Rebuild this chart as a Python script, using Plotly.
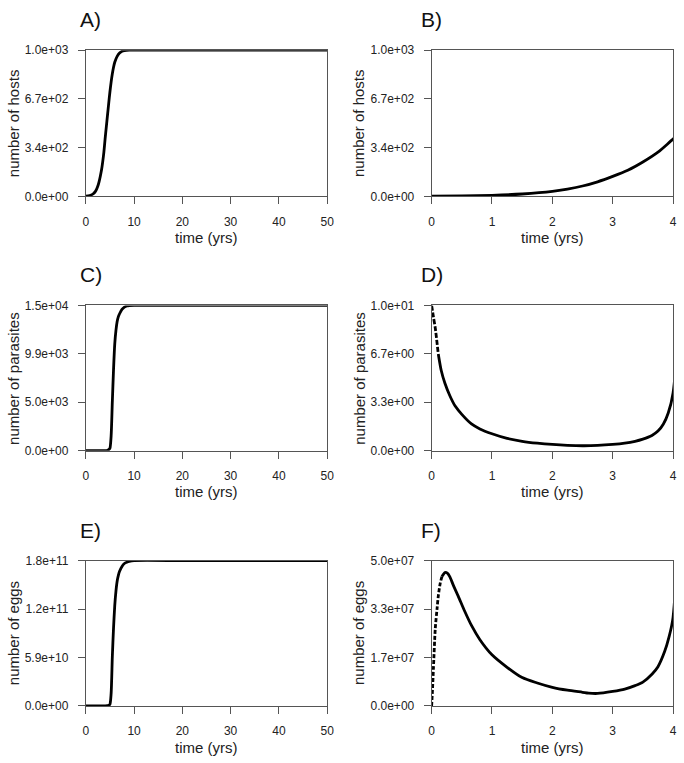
import plotly.graph_objects as go

# ---------------- data ----------------
# hosts (panels A, B)
host_t = [0, 0.5, 1, 1.5, 2, 2.25, 2.5, 2.75, 3, 3.25, 3.5, 3.75, 4, 4.25, 4.5, 4.75, 5, 5.25, 5.5, 5.75, 6,
          6.5, 7, 7.5, 8, 9, 10, 20, 30, 40, 50]
host_n = [2, 4, 8, 17, 35, 51, 72, 101, 138, 180, 237, 305, 395, 478, 560, 642, 720, 788, 845, 890, 925,
          965, 988, 1000, 1005, 1008, 1008, 1008, 1008, 1008, 1008]

# parasites (panels C, D)
par_t = [0, 0.03, 0.06, 0.11, 0.16, 0.22, 0.3, 0.39, 0.5, 0.66, 0.8, 1, 1.25, 1.5, 1.75, 2, 2.25, 2.5,
         2.75, 3, 3.2, 3.37, 3.5, 3.65, 3.75, 3.84, 3.92, 4, 4.5, 4.75, 5, 5.25, 5.5, 5.75, 6, 6.25, 6.5, 6.75,
         7, 7.5, 8, 8.5, 9, 10, 20, 30, 40, 50]
par_n = [10, 9.2, 8.45, 6.66, 5.5, 4.64, 3.8, 3.07, 2.5, 1.84, 1.5, 1.17, 0.85, 0.65, 0.52, 0.43, 0.37, 0.34,
         0.36, 0.43, 0.52, 0.65, 0.8, 1.05, 1.35, 1.84, 2.6, 3.97, 40, 110, 250, 1500, 5000, 8300, 10900, 12300,
         13200, 13700, 14000, 14450, 14680, 14790, 14830, 14850, 14850, 14850, 14850, 14850]

# eggs (panels E, F)
egg_t = [0, 0.015, 0.03, 0.06, 0.09, 0.11, 0.14, 0.17, 0.22, 0.26, 0.3, 0.36, 0.44, 0.55, 0.66, 0.8, 1, 1.25,
         1.5, 1.75, 2, 2.25, 2.5, 2.6, 2.75, 3, 3.2, 3.37, 3.5, 3.65, 3.75, 3.86, 3.93, 4, 4.5, 4.75, 5, 5.25,
         5.5, 5.75, 6, 6.25, 6.5, 6.75, 7, 7.5, 8, 8.5, 9, 10, 20, 30, 40, 50]
egg_n = [0, 6.0e6, 13.1e6, 26.6e6, 33.5e6, 37.8e6, 42.0e6, 44.5e6, 45.9e6, 45.7e6, 44.5e6, 41.5e6, 37.8e6, 32.5e6,
         27.7e6, 22.8e6, 17.6e6, 13.3e6, 9.75e6, 7.9e6, 6.4e6, 5.4e6, 4.7e6, 4.4e6, 4.3e6, 5.0e6, 5.8e6, 7.0e6,
         8.2e6, 10.9e6, 13.5e6, 18.7e6, 23.5e6, 30.5e6, 3.0e8, 8.0e8, 2.0e9, 1.5e10, 6.0e10, 9.5e10, 1.22e11,
         1.40e11, 1.52e11, 1.59e11, 1.64e11, 1.70e11, 1.735e11, 1.75e11, 1.76e11, 1.77e11, 1.77e11, 1.77e11,
         1.77e11, 1.77e11]

# axis maxima and tick labels
host_max = 1008
par_max_long, par_max_short = 14850, 10
egg_max_long, egg_max_short = 1.77e11, 5.0e7

host_ticks = ["0.0e+00", "3.4e+02", "6.7e+02", "1.0e+03"]
par_long_ticks = ["0.0e+00", "5.0e+03", "9.9e+03", "1.5e+04"]
par_short_ticks = ["0.0e+00", "3.3e+00", "6.7e+00", "1.0e+01"]
egg_long_ticks = ["0.0e+00", "5.9e+10", "1.2e+11", "1.8e+11"]
egg_short_ticks = ["0.0e+00", "1.7e+07", "3.3e+07", "5.0e+07"]

long_xticks = [0, 10, 20, 30, 40, 50]
short_xticks = [0, 1, 2, 3, 4]

panel_labels = ["A)", "B)", "C)", "D)", "E)", "F)"]
y_titles = ["number of hosts", "number of hosts", "number of parasites", "number of parasites",
            "number of eggs", "number of eggs"]
x_title = "time (yrs)"

# ---------------- layout ----------------
W, H = 684, 763
FONT = "Liberation Sans, Arial, Helvetica, sans-serif"
col_px = [(84, 329), (435, 680)]
row_px = [(44, 193), (304, 452), (564, 712)]
label_left_px = [76, 422]

fig = go.Figure()

panels = [
    # (row, col, x, y, ymax, yticktext, xticks, xmax, n_dashed, dash)
    (0, 0, host_t, host_n, host_max, host_ticks, long_xticks, 50, 0, None),
    (0, 1, host_t, host_n, host_max, host_ticks, short_xticks, 4, 0, None),
    (1, 0, par_t, par_n, par_max_long, par_long_ticks, long_xticks, 50, 0, None),
    (1, 1, par_t, par_n, par_max_short, par_short_ticks, short_xticks, 4, 4, "5px,2px"),
    (2, 0, egg_t, egg_n, egg_max_long, egg_long_ticks, long_xticks, 50, 0, None),
    (2, 1, egg_t, egg_n, egg_max_short, egg_short_ticks, short_xticks, 4, 8, "4px,2px"),
]

annotations = []
axis_color = "#555555"
LW = 2.8
for i, (r, c, xs, ys, ymax, yt, xt, xmax, nd, dash) in enumerate(panels):
    k = i + 1
    xa = "x" if k == 1 else f"x{k}"
    ya = "y" if k == 1 else f"y{k}"
    line = dict(color="black", width=LW, shape="spline", smoothing=0.7)
    if nd > 0:
        fig.add_trace(go.Scatter(x=xs[:nd], y=ys[:nd], mode="lines", xaxis=xa, yaxis=ya,
                                 line=dict(color="black", width=LW, dash=dash, shape="spline", smoothing=0.7),
                                 showlegend=False, hoverinfo="skip"))
        fig.add_trace(go.Scatter(x=xs[nd - 1:], y=ys[nd - 1:], mode="lines", xaxis=xa, yaxis=ya,
                                 line=line, showlegend=False))
    else:
        fig.add_trace(go.Scatter(x=xs, y=ys, mode="lines", xaxis=xa, yaxis=ya,
                                 line=line, showlegend=False))

    x0, x1 = col_px[c]
    y0, y1 = row_px[r]
    common = dict(showline=True, mirror=True, linecolor=axis_color, linewidth=1,
                  ticks="outside", ticklen=7, tickwidth=1, tickcolor=axis_color,
                  showgrid=False, zeroline=False, ticklabeloverflow="allow",
                  tickfont=dict(family=FONT, size=12, color="#222222"))
    fig.layout[f"xaxis{'' if k == 1 else k}"] = dict(
        domain=[x0 / W, x1 / W], anchor=ya, range=[0, xmax], tickmode="array",
        tickvals=xt, ticktext=[str(v) for v in xt], ticklabelstandoff=7, **common)
    fig.layout[f"yaxis{'' if k == 1 else k}"] = dict(
        domain=[1 - y1 / H, 1 - y0 / H], anchor=xa, range=[0, ymax], tickmode="array",
        tickvals=[0, ymax / 3, 2 * ymax / 3, ymax], ticktext=yt, ticklabelstandoff=7, **common)

    # panel label
    annotations.append(dict(text=panel_labels[i], xref="paper", yref="paper",
                            x=label_left_px[c] / W, y=1 - (y0 - 31) / H, xanchor="left", yanchor="middle",
                            showarrow=False, font=dict(family=FONT, size=21, color="#111111")))
    # x title
    annotations.append(dict(text=x_title, xref="paper", yref="paper",
                            x=(x0 + x1) / 2 / W, y=1 - (y1 + 42) / H, xanchor="center", yanchor="middle",
                            showarrow=False, font=dict(family=FONT, size=15, color="#222222")))
    # y title
    annotations.append(dict(text=y_titles[i], xref="paper", yref="paper",
                            x=(x0 - 74) / W, y=1 - (y0 + y1) / 2 / H, xanchor="center", yanchor="middle",
                            textangle=-90, showarrow=False,
                            font=dict(family=FONT, size=15, color="#222222")))

fig.update_layout(width=W, height=H, margin=dict(l=0, r=0, t=0, b=0),
                  paper_bgcolor="white", plot_bgcolor="white", showlegend=False,
                  annotations=annotations, font=dict(family=FONT))

page_fix = ("document.body.style.margin='0px';document.body.style.overflow='hidden';"
            "document.documentElement.style.overflow='hidden';")
fig.write_html("out.html", post_script=page_fix, config={"displayModeBar": False})
